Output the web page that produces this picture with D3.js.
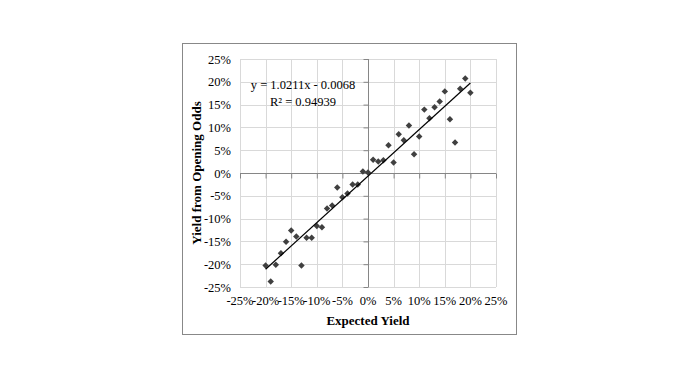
<!DOCTYPE html>
<html><head><meta charset="utf-8">
<script src="https://cdn.jsdelivr.net/npm/d3@7"></script>
<style>body{margin:0;background:#fff}</style>
</head><body>
<svg id="c" width="700" height="380"></svg>
<script>
const expectedYield = [-20,-19,-18,-17,-16,-15,-14,-13,-12,-11,-10,-9,-8,-7,-6,-5,-4,-3,-2,-1,0,1,2,3,4,5,6,7,8,9,10,11,12,13,14,15,16,17,18,19,20];
const openingYield = [-20.3,-23.8,-20.1,-17.6,-15.1,-12.6,-13.9,-20.3,-14.2,-14.2,-11.6,-11.9,-7.8,-7.1,-3.2,-5.3,-4.5,-2.5,-2.5,0.35,0.1,2.9,2.5,2.8,6.1,2.3,8.5,7.2,10.4,4.1,8.0,13.9,12.0,14.4,15.7,17.9,11.8,6.7,18.5,20.7,17.6];
const tickValues = [-25,-20,-15,-10,-5,0,5,10,15,20,25];
const slope = 1.0211, intercept = -0.0068;
const equationText = "y = 1.0211x - 0.0068";
const r2Text = "R² = 0.94939";

const svg = d3.select("#c");
const font = "'Liberation Serif','Times New Roman',serif";
svg.append("rect").attr("x",182.5).attr("y",43.5).attr("width",334).attr("height",291)
  .attr("fill","#fff").attr("stroke","#888").attr("stroke-width",1);

const x = d3.scaleLinear().domain([-25,25]).range([240,496]);
const y = d3.scaleLinear().domain([-25,25]).range([287,59]);

const g = svg.append("g");
// grid
g.selectAll(".vg").data(tickValues).join("line")
  .attr("x1",d=>Math.round(x(d))+0.5).attr("x2",d=>Math.round(x(d))+0.5)
  .attr("y1",y(25)).attr("y2",y(-25)).attr("stroke","#d9d9d9");
g.selectAll(".hg").data(tickValues).join("line")
  .attr("y1",d=>Math.round(y(d))+0.5).attr("y2",d=>Math.round(y(d))+0.5)
  .attr("x1",x(-25)).attr("x2",x(25)).attr("stroke","#d9d9d9");

// axes through zero
const xAxis = d3.axisBottom(x).tickValues(tickValues).tickSize(5).tickFormat("");
const yAxis = d3.axisLeft(y).tickValues(tickValues).tickSize(5).tickFormat("");
const xa = g.append("g").attr("transform",`translate(0,${Math.round(y(0))+0.5})`).call(xAxis);
const ya = g.append("g").attr("transform",`translate(${Math.round(x(0))+0.5},0)`).call(yAxis);
[xa,ya].forEach(a=>{a.selectAll("path,line").attr("stroke","#868686").attr("stroke-width",1);
  a.select(".domain").attr("d", a===xa ? `M${x(-25)},0H${x(25)}` : `M0,${y(25)}V${y(-25)}`);});

// tick labels
svg.selectAll(".xl").data(tickValues).join("text")
  .attr("x",d=>x(d)).attr("y",305).attr("text-anchor","middle")
  .attr("font-family",font).attr("font-size",12.5).attr("fill","#000").text(d=>d+"%");
svg.selectAll(".yl").data(tickValues).join("text")
  .attr("x",231).attr("y",d=>y(d)+4.5).attr("text-anchor","end")
  .attr("font-family",font).attr("font-size",12.5).attr("fill","#000").text(d=>d+"%");

// axis titles
svg.append("text").attr("x",368).attr("y",325).attr("text-anchor","middle")
  .attr("font-family",font).attr("font-weight","bold").attr("font-size",13).text("Expected Yield");
svg.append("text").attr("transform","translate(201,173) rotate(-90)").attr("text-anchor","middle")
  .attr("font-family",font).attr("font-weight","bold").attr("font-size",13).text("Yield from Opening Odds");

// points
svg.selectAll(".pt").data(expectedYield).join("path")
  .attr("d", d3.symbol().type(d3.symbolSquare).size(21))
  .attr("transform",(d,i)=>`translate(${x(d)},${y(openingYield[i])}) rotate(45)`)
  .attr("fill","#404040");

// trendline
const xmin = d3.min(expectedYield), xmax = d3.max(expectedYield);
const ty = v => (slope*(v/100)+intercept)*100;
svg.append("line").attr("x1",x(xmin)).attr("y1",y(ty(xmin))).attr("x2",x(xmax)).attr("y2",y(ty(xmax)))
  .attr("stroke","#000").attr("stroke-width",1.2);

// equation
svg.append("text").attr("x",303).attr("y",89).attr("text-anchor","middle")
  .attr("font-family",font).attr("font-size",12.5).text(equationText);
svg.append("text").attr("x",303).attr("y",106).attr("text-anchor","middle")
  .attr("font-family",font).attr("font-size",12.5).text(r2Text);
</script>
</body></html>
